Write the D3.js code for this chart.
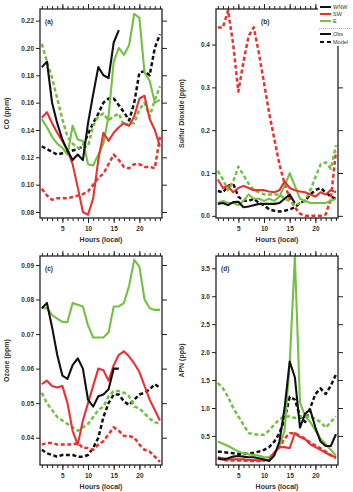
<!DOCTYPE html>
<html>
<head>
<meta charset="utf-8">
<script src="https://cdn.jsdelivr.net/npm/d3@7"></script>
<style>
  body { margin: 0; background: #fff; }
  svg { display: block; }
  text { font-family: "Liberation Sans", Arial, sans-serif; fill: #333; }
</style>
</head>
<body>
<script>
// hours of the day
const hours = d3.range(1, 25);
const majorHours = [5, 10, 15, 20];

// (a) CO, ppm
const coWnwObs = [0.186,0.190,0.160,0.145,0.133,0.125,0.118,0.122,0.118,0.145,0.166,0.186,0.180,0.178,0.204,0.213];
const coSwObs = [0.149,0.153,0.145,0.138,0.132,0.125,0.115,0.098,0.080,0.078,0.090,0.118,0.138,0.132,0.138,0.142,0.145,0.143,0.150,0.163,0.165,0.148,0.140,0.128];
const coEObs = [0.148,0.142,0.135,0.130,0.127,0.122,0.143,0.133,0.132,0.115,0.114,0.122,0.130,0.150,0.190,0.200,0.195,0.202,0.225,0.222,0.182,0.176,0.160,0.162];
const coWnwMod = [0.128,0.126,0.124,0.122,0.123,0.124,0.125,0.126,0.128,0.137,0.145,0.152,0.160,0.163,0.163,0.158,0.153,0.147,0.160,0.182,0.183,0.180,0.200,0.210];
const coSwMod = [0.097,0.092,0.089,0.090,0.090,0.090,0.091,0.092,0.093,0.095,0.100,0.105,0.108,0.115,0.122,0.118,0.113,0.112,0.115,0.115,0.113,0.113,0.112,0.135];
const coEMod = [0.203,0.190,0.178,0.163,0.148,0.135,0.130,0.127,0.127,0.128,0.143,0.150,0.152,0.147,0.150,0.152,0.143,0.145,0.145,0.155,0.160,0.150,0.162,0.172];

// (b) SO2, ppm
const so2WnwObs = [0.028,0.030,0.025,0.032,0.033,0.020,0.022,0.025,0.028,0.028,0.028,0.028,0.030,0.040,0.050,0.030];
const so2SwObs = [0.085,0.065,0.070,0.055,0.065,0.070,0.065,0.060,0.060,0.060,0.057,0.055,0.060,0.080,0.065,0.060,0.057,0.055,0.050,0.045,0.055,0.050,0.060,0.055];
const so2EObs = [0.030,0.035,0.030,0.030,0.025,0.035,0.050,0.040,0.040,0.035,0.040,0.035,0.045,0.070,0.100,0.070,0.040,0.035,0.030,0.030,0.030,0.030,0.035,0.040];
const so2WnwMod = [0.058,0.055,0.070,0.075,0.045,0.035,0.035,0.040,0.030,0.025,0.015,0.012,0.010,0.012,0.015,0.020,0.030,0.035,0.050,0.060,0.065,0.055,0.045,0.040];
const so2SwMod = [0.440,0.440,0.480,0.400,0.290,0.360,0.420,0.440,0.380,0.310,0.240,0.180,0.120,0.075,0.040,0.020,0.005,0.000,0.000,0.000,0.000,0.003,0.040,0.150];
const so2EMod = [0.105,0.085,0.060,0.080,0.115,0.095,0.075,0.060,0.055,0.050,0.050,0.050,0.050,0.040,0.035,0.025,0.030,0.035,0.060,0.090,0.120,0.125,0.110,0.165];

// (c) Ozone, ppm
const o3WnwObs = [0.0775,0.079,0.072,0.064,0.058,0.057,0.061,0.063,0.060,0.051,0.049,0.052,0.0525,0.054,0.060,0.060];
const o3SwObs = [0.0555,0.0565,0.055,0.0545,0.055,0.050,0.042,0.038,0.045,0.050,0.055,0.060,0.0595,0.0565,0.061,0.064,0.065,0.0635,0.0615,0.059,0.055,0.051,0.048,0.045];
const o3EObs = [0.0775,0.0775,0.0755,0.0745,0.0735,0.0735,0.079,0.0785,0.078,0.0725,0.069,0.069,0.069,0.0705,0.078,0.078,0.079,0.084,0.0915,0.0895,0.080,0.0775,0.077,0.077];
const o3WnwMod = [0.0365,0.0355,0.035,0.0345,0.035,0.035,0.035,0.0345,0.0345,0.035,0.037,0.040,0.046,0.050,0.0525,0.0525,0.0505,0.0495,0.051,0.0525,0.053,0.054,0.0555,0.0545];
const o3SwMod = [0.038,0.0385,0.0385,0.038,0.038,0.038,0.038,0.0385,0.037,0.037,0.0365,0.038,0.039,0.041,0.043,0.042,0.0405,0.0405,0.040,0.038,0.0365,0.036,0.0345,0.033];
const o3EMod = [0.053,0.050,0.048,0.046,0.045,0.044,0.043,0.042,0.043,0.044,0.046,0.048,0.049,0.052,0.0535,0.0535,0.053,0.052,0.049,0.0485,0.047,0.0455,0.0445,0.044];

// (d) APN, ppb
const apnWnwObs = [0.10,0.08,0.10,0.13,0.14,0.13,0.12,0.12,0.10,0.08,0.05,0.15,0.40,1.00,1.83,1.55,0.65,0.90,0.97,0.65,0.40,0.32,0.32,0.53];
const apnSwObs = [0.12,0.10,0.08,0.08,0.08,0.08,0.07,0.07,0.06,0.06,0.08,0.20,0.30,0.30,0.28,0.55,0.48,0.44,0.35,0.30,0.25,0.20,0.15,0.12];
const apnEObs = [0.40,0.36,0.32,0.27,0.22,0.19,0.17,0.16,0.15,0.12,0.12,0.20,0.30,0.60,1.80,3.70,1.10,0.85,0.75,0.60,0.45,0.35,0.25,0.15];
const apnWnwMod = [0.22,0.21,0.20,0.19,0.18,0.18,0.18,0.20,0.22,0.25,0.30,0.40,0.55,0.80,1.20,1.15,0.85,0.75,1.00,1.25,1.35,1.25,1.40,1.60];
const apnSwMod = [0.10,0.07,0.06,0.06,0.06,0.06,0.05,0.05,0.05,0.06,0.10,0.20,0.30,0.45,0.55,0.55,0.50,0.45,0.38,0.33,0.28,0.22,0.16,0.10];
const apnEMod = [1.45,1.35,1.20,1.00,0.85,0.70,0.55,0.53,0.52,0.52,0.60,0.70,0.80,0.85,0.85,0.82,0.85,0.85,0.85,0.80,0.75,0.65,0.75,0.85];

const black = "#111", red = "#e53332", green = "#74c043";

const svg = d3.select("body").append("svg")
    .attr("width", 353)
    .attr("height", 492);

function panel(p) {
  const x = d3.scaleLinear().domain([0.65, 24.4]).range([p.left, p.right]);
  const y = d3.scaleLinear().domain(p.yDomain).range([p.bottom, p.top]);
  const g = svg.append("g");

  const clipId = "clip-" + p.tag;
  g.append("clipPath").attr("id", clipId)
    .append("rect")
      .attr("x", p.left).attr("y", p.top)
      .attr("width", p.right - p.left).attr("height", p.bottom - p.top);

  const line = d3.line()
      .x((d, i) => x(hours[i]))
      .y(d => y(d));

  // model (dashed) lines first, then obs
  const lines = g.append("g").attr("clip-path", `url(#${clipId})`).attr("fill", "none");
  p.series.forEach(s => {
    lines.append("path")
        .attr("d", line(s.values))
        .attr("stroke", s.color)
        .attr("stroke-width", s.dashed ? 2.5 : 2.1)
        .attr("stroke-dasharray", s.dashed ? "4,2.5" : null)
        .attr("stroke-linejoin", "round");
  });

  // axes: minor hour ticks + major ticks, mirrored on top
  const axisStyle = sel => {
    sel.select(".domain").remove();
    sel.selectAll("line").attr("stroke", "#222").attr("stroke-width", 1);
    sel.selectAll("text").attr("font-size", 6.5).attr("font-weight", "bold").attr("fill", "#333");
  };
  g.append("g").attr("transform", `translate(0,${p.bottom})`)
    .call(d3.axisBottom(x).tickValues(hours).tickSize(3).tickFormat(""))
    .call(axisStyle);
  g.append("g").attr("transform", `translate(0,${p.bottom})`)
    .call(d3.axisBottom(x).tickValues(majorHours).tickSize(5).tickPadding(3).tickFormat(d3.format("d")))
    .call(axisStyle);
  g.append("g").attr("transform", `translate(0,${p.top})`)
    .call(d3.axisTop(x).tickValues(hours).tickSize(3).tickFormat(""))
    .call(axisStyle);
  g.append("g").attr("transform", `translate(0,${p.top})`)
    .call(d3.axisTop(x).tickValues(majorHours).tickSize(5).tickFormat(""))
    .call(axisStyle);
  g.append("g").attr("transform", `translate(${p.left},0)`)
    .call(d3.axisLeft(y).tickValues(p.yTicks).tickSize(4).tickPadding(2).tickFormat(d3.format(p.fmt)))
    .call(axisStyle);
  g.append("g").attr("transform", `translate(${p.right},0)`)
    .call(d3.axisRight(y).tickValues(p.yTicks).tickSize(5).tickFormat(""))
    .call(axisStyle);

  g.append("rect")
      .attr("x", p.left).attr("y", p.top)
      .attr("width", p.right - p.left).attr("height", p.bottom - p.top)
      .attr("fill", "none").attr("stroke", "#222").attr("stroke-width", 1.3);

  g.append("text")
      .attr("x", p.tagX).attr("y", p.top + 15)
      .attr("font-size", 6.5).attr("font-weight", "bold")
      .text(`(${p.tag})`);

  g.append("text")
      .attr("x", (p.left + p.right) / 2).attr("y", p.bottom + 24)
      .attr("text-anchor", "middle")
      .attr("font-size", 7).attr("font-weight", "bold")
      .text("Hours (local)");

  g.append("text")
      .attr("transform", `translate(${p.ylabelX},${(p.top + p.bottom) / 2}) rotate(-90)`)
      .attr("text-anchor", "middle")
      .attr("dy", "0.35em")
      .attr("font-size", 7).attr("font-weight", "bold")
      .text(p.ylabel);
}

const series = (wObs, sObs, eObs, wMod, sMod, eMod) => [
  { values: wMod, color: black, dashed: true },
  { values: sMod, color: red, dashed: true },
  { values: eMod, color: green, dashed: true },
  { values: eObs, color: green },
  { values: sObs, color: red },
  { values: wObs, color: black }
];

panel({ tag: "a", tagX: 45, left: 40, right: 162, top: 9, bottom: 218,
  yDomain: [0.0756, 0.2285], yTicks: d3.range(0.08, 0.2201, 0.02), fmt: ".2f",
  ylabel: "CO (ppm)", ylabelX: 7,
  series: series(coWnwObs, coSwObs, coEObs, coWnwMod, coSwMod, coEMod) });

panel({ tag: "b", tagX: 261, left: 216, right: 338, top: 9, bottom: 218,
  yDomain: [-0.005, 0.483], yTicks: [0, 0.1, 0.2, 0.3, 0.4], fmt: ".1f",
  ylabel: "Sulfur Dioxide (ppm)", ylabelX: 182,
  series: series(so2WnwObs, so2SwObs, so2EObs, so2WnwMod, so2SwMod, so2EMod) });

panel({ tag: "c", tagX: 45, left: 40, right: 162, top: 256, bottom: 465,
  yDomain: [0.0321, 0.0926], yTicks: [0.04, 0.05, 0.06, 0.07, 0.08, 0.09], fmt: ".2f",
  ylabel: "Ozone (ppm)", ylabelX: 7,
  series: series(o3WnwObs, o3SwObs, o3EObs, o3WnwMod, o3SwMod, o3EMod) });

panel({ tag: "d", tagX: 221, left: 216, right: 338, top: 256, bottom: 465,
  yDomain: [-0.02, 3.72], yTicks: [0.5, 1.0, 1.5, 2.0, 2.5, 3.0, 3.5], fmt: ".1f",
  ylabel: "APN (ppb)", ylabelX: 182,
  series: series(apnWnwObs, apnSwObs, apnEObs, apnWnwMod, apnSwMod, apnEMod) });

// legend, top right over panel (b)
const legendItems = [
  { label: "WNW", color: black, y: 7 },
  { label: "SW", color: red, y: 14 },
  { label: "E", color: green, y: 21 }
];
const styleItems = [
  { label: "Obs", dashed: false, y: 34 },
  { label: "Model", dashed: true, y: 42 }
];
const legend = svg.append("g");
legend.append("rect").attr("x", 318).attr("y", 2).attr("width", 35).attr("height", 44).attr("fill", "#fff");
legendItems.forEach(d => {
  legend.append("line").attr("x1", 320).attr("x2", 331).attr("y1", d.y).attr("y2", d.y)
    .attr("stroke", d.color).attr("stroke-width", 2);
  legend.append("text").attr("x", 333).attr("y", d.y).attr("dy", "0.35em")
    .attr("font-size", 5.5).attr("fill", "#666").text(d.label);
});
legend.append("line").attr("x1", 319).attr("x2", 353).attr("y1", 28.5).attr("y2", 28.5)
  .attr("stroke", "#888").attr("stroke-width", 0.6).attr("stroke-dasharray", "1,1");
styleItems.forEach(d => {
  legend.append("line").attr("x1", 320).attr("x2", 331).attr("y1", d.y).attr("y2", d.y)
    .attr("stroke", black).attr("stroke-width", 2)
    .attr("stroke-dasharray", d.dashed ? "4,3" : null);
  legend.append("text").attr("x", 333).attr("y", d.y).attr("dy", "0.35em")
    .attr("font-size", 5.5).attr("fill", "#666").text(d.label);
});
</script>
</body>
</html>
